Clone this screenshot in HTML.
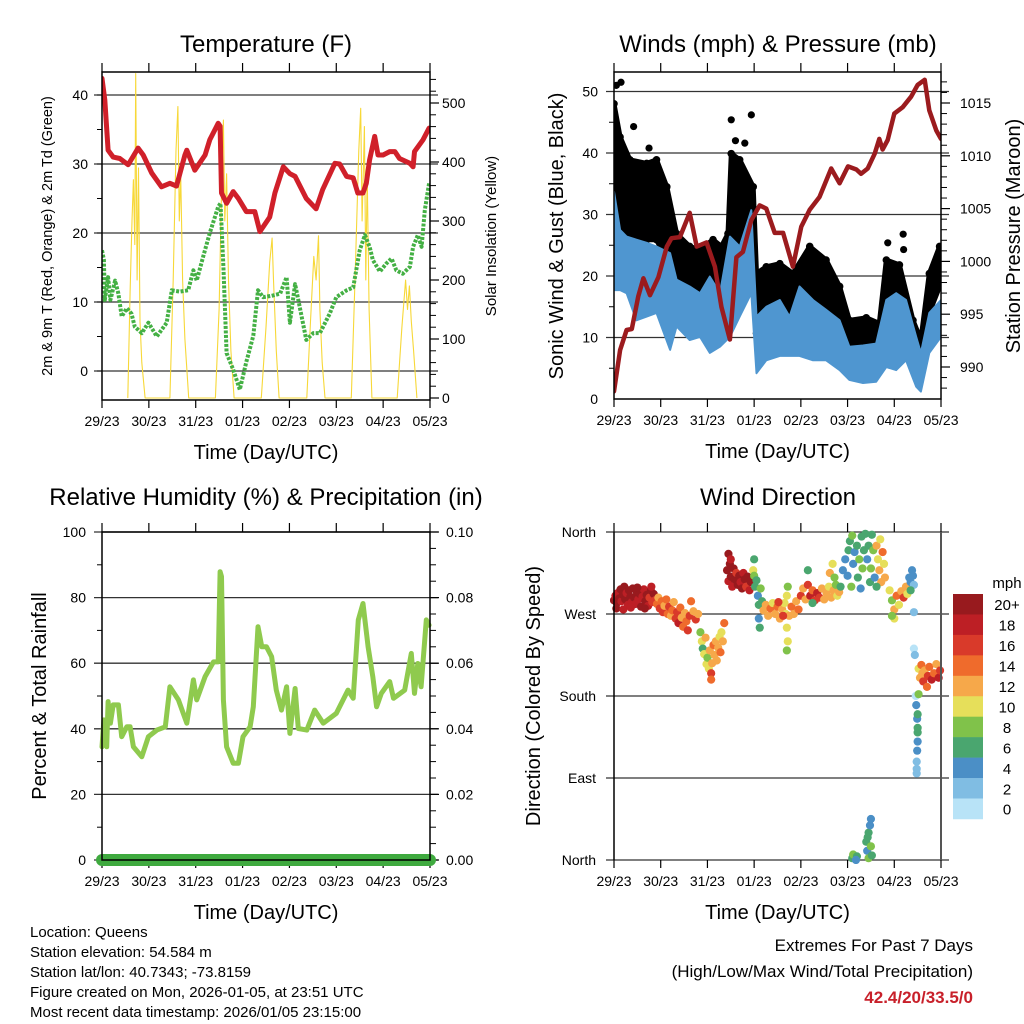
<!DOCTYPE html>
<html><head><meta charset="utf-8"><style>
html,body{margin:0;padding:0;background:#fff;}
svg{display:block;font-family:"Liberation Sans",sans-serif;}
</style></head><body>
<svg id="fig" width="1024" height="1024" viewBox="0 0 1024 1024">
<defs>
<clipPath id="c1"><rect x="102" y="72" width="328" height="328"/></clipPath>
<clipPath id="c2"><rect x="614" y="72" width="327" height="327"/></clipPath>
<clipPath id="c3"><rect x="94" y="520" width="344" height="350"/></clipPath>
<clipPath id="c4"><rect x="610" y="528" width="335" height="336"/></clipPath>
</defs>
<g id="g1"></g>
<g id="g2"></g>
<g id="g3"></g>
<g id="g4"></g>
<g id="txt">
<text x="30" y="937" font-size="15">Location: Queens</text>
<text x="30" y="957" font-size="15">Station elevation: 54.584 m</text>
<text x="30" y="977" font-size="15">Station lat/lon: 40.7343; -73.8159</text>
<text x="30" y="997" font-size="15">Figure created on Mon, 2026-01-05, at 23:51 UTC</text>
<text x="30" y="1017" font-size="15">Most recent data timestamp: 2026/01/05 23:15:00</text>
<text x="973" y="951" font-size="17" text-anchor="end">Extremes For Past 7 Days</text>
<text x="973" y="977" font-size="17" text-anchor="end">(High/Low/Max Wind/Total Precipitation)</text>
<text x="973" y="1003" font-size="17" font-weight="bold" fill="#c8202a" text-anchor="end">42.4/20/33.5/0</text>
</g>
</svg>
<script>
// ---------- DATA ----------
const dayLabels=["29/23","30/23","31/23","01/23","02/23","03/23","04/23","05/23"];
// Temperature (F)
const tempT=[0,0.06,0.13,0.24,0.38,0.56,0.77,0.88,1.06,1.27,1.45,1.59,1.77,1.81,1.98,2.20,2.30,2.48,2.52,2.55,2.66,2.80,2.91,3.08,3.26,3.37,3.58,3.69,3.87,4.01,4.12,4.36,4.57,4.71,4.97,5.07,5.22,5.36,5.46,5.57,5.64,5.71,5.82,5.89,6.0,6.14,6.25,6.35,6.57,6.64,6.67,6.85,6.98];
const tempV=[42.4,39.3,32,31,30.8,29.9,32.3,31.3,28.7,26.7,27.2,26.8,31.3,32,29.1,31.3,33.5,35.9,35.5,25.8,24.3,26,25,23.1,23.1,20.2,22.3,25.8,29.6,28.6,28.2,25,23.5,26.3,30.1,30,28.2,28,25.8,25.8,27.2,30.6,34,31.3,31.3,31.8,31.8,30.8,30.1,29.6,31.8,33.5,35.2];
const dewT=[0,0.04,0.06,0.13,0.18,0.28,0.35,0.42,0.53,0.63,0.70,0.85,0.99,1.17,1.38,1.49,1.66,1.84,1.95,2.02,2.16,2.30,2.48,2.53,2.59,2.66,2.80,2.94,3.08,3.23,3.33,3.44,3.62,3.80,3.94,4.01,4.12,4.19,4.36,4.51,4.65,4.86,5.0,5.22,5.36,5.50,5.61,5.71,5.78,5.93,6.07,6.18,6.28,6.42,6.57,6.64,6.74,6.82,6.89,6.98];
const dewV=[17.5,16.1,10.3,13.6,10.3,13.1,11.2,7.9,9.1,8.3,6.4,5.5,7,5,7,11.7,11.5,11.7,14.6,13.1,16.6,20,23.8,24.3,15.1,2.6,0.2,-2.7,1.3,5.1,11.7,10.7,10.9,11.2,13.6,7,12.6,10.3,4.5,5.5,5.5,8.3,10.7,11.7,12.1,17.5,19.7,18,16.1,14.4,15.6,16.3,14.6,14.1,15.1,18,19.7,18,23.3,27.2];
const solarT=[0.55,0.60,0.64,0.67,0.70,0.72,0.75,0.78,0.81,0.85,0.92, 1.45,1.52,1.58,1.62,1.65,1.68,1.72,1.77,1.85, 2.42,2.50,2.55,2.59,2.62,2.66,2.70,2.75,2.82, 3.40,3.50,3.58,3.63,3.66,3.72,3.78, 4.37,4.45,4.52,4.57,4.62,4.65,4.70,4.76, 5.32,5.40,5.48,5.52,5.55,5.60,5.63,5.66,5.70,5.76, 6.30,6.40,6.48,6.52,6.56,6.60,6.65,6.72];
const solarV=[0,180,300,370,260,550,200,390,130,60,0, 0,200,420,494,300,380,200,100,0, 0,150,350,471,300,380,200,80,0, 0,120,230,271,200,80,0, 0,130,240,200,275,150,60,0, 0,200,420,491,300,460,200,380,150,0, 0,120,200,150,190,130,80,0];
// Winds (mph) & Pressure (mb)
const presT=[0,0.13,0.27,0.38,0.52,0.63,0.77,0.95,1.13,1.23,1.41,1.62,1.77,1.98,2.16,2.30,2.48,2.62,2.76,2.94,3.12,3.26,3.44,3.62,3.83,4.01,4.19,4.40,4.65,4.83,5.01,5.19,5.29,5.43,5.58,5.68,5.75,5.86,6.0,6.18,6.36,6.50,6.65,6.75,6.90,7.0];
const presV=[987.7,991.6,993.5,993.6,996.7,998.4,996.8,998.5,1001.4,1002.2,1002.3,1004.6,1001.4,1001.8,999.5,995.7,992.6,1000.4,1000.9,1003.9,1005.3,1005,1002.7,1002.7,999.5,1003.3,1004.9,1006.1,1008.8,1007.4,1009.0,1008.7,1008.3,1008.8,1010.2,1011.6,1010.6,1011.5,1014.0,1014.6,1015.6,1016.7,1017.2,1014.3,1012.4,1011.6];
const windT=[0,0.13,0.27,0.48,0.70,0.91,1.20,1.34,1.62,1.84,2.05,2.27,2.48,2.69,2.94,3.05,3.26,3.55,3.76,3.97,4.26,4.54,4.83,5.04,5.33,5.61,5.83,6.04,6.25,6.47,6.57,6.75,7.0];
const windHi=[33.7,27.5,26.4,25.9,25.4,24.8,23.7,19.4,18.3,17.2,19.9,17.2,26.4,24.8,30.7,13.4,15,16.1,13.4,18.3,16.1,14.5,12.8,8.5,8.7,9,16.1,17.2,16.1,10.1,7.5,14,16.1];
const windLo=[17.7,17.7,17.2,12.8,13.4,14,8,11.8,9.6,10.1,7.5,8.5,10.1,13.4,17.2,4.2,6.3,7,7,7,6.3,6.3,4.7,3.1,2.6,2.8,5.2,4.7,6.3,2.0,1.2,7.5,10.1];
const gustT=[0,0.13,0.34,0.70,0.91,1.13,1.34,1.62,1.84,2.12,2.30,2.44,2.51,2.69,2.98,3.05,3.26,3.55,3.83,4.19,4.54,4.83,5.04,5.40,5.68,5.83,6.11,6.40,6.57,6.75,6.97];
const gustHi=[48,42.6,38.9,38.3,38.9,34.5,26.9,24.8,24.3,25.9,24.8,26.9,39.9,38.9,34.5,20.4,21.5,22,20.4,24.8,22.6,18.3,12.8,13.2,12.3,22.6,21.8,12.8,9.6,20.4,24.8];
const gustLo=[29,25.9,24.8,25.9,25.9,22.6,16.1,15.6,14,12.3,15.6,13.2,22.6,25.9,22.6,10.7,13,14,14,17.2,14,10.7,7.5,7.5,8.5,15,14,8.5,6.3,14,18.3];
const gustOutT=[0.05,0.15,0.42,0.75,2.51,2.80,2.94,5.86,6.19,6.20,0.02,0.25,2.60];
const gustOutV=[51,51.5,44.3,40.8,45.4,41.6,46.2,25.4,26.8,24.3,46,40,42];
// Relative humidity (%) & precip (in)
const rhT=[0,0.04,0.10,0.13,0.18,0.24,0.35,0.42,0.53,0.60,0.67,0.85,0.99,1.17,1.35,1.45,1.63,1.81,1.95,2.02,2.20,2.38,2.48,2.52,2.55,2.59,2.66,2.80,2.91,3.01,3.16,3.23,3.33,3.41,3.51,3.62,3.72,3.83,3.94,4.01,4.12,4.19,4.37,4.54,4.72,5.0,5.25,5.36,5.47,5.57,5.68,5.78,5.86,5.96,6.14,6.22,6.46,6.60,6.67,6.74,6.81,6.92,6.98];
const rhV=[34.5,42.7,34.5,48.3,41.7,47.3,47.3,37.6,40.6,40.6,34.5,31.5,37.6,39.6,40.6,52.8,48.8,41.7,54.9,48.8,55.9,60.4,60.4,87.9,86.4,48.8,34.5,29.5,29.5,37.6,40.6,46.7,71.1,65,65,62,51.8,45.7,52.8,38.6,52.3,40.1,39.6,45.7,41.7,44.7,51.8,49.3,73.2,78.2,65,55.9,46.7,50.8,54.4,49.3,51.8,63,50.8,59.9,52.8,73.2,71.6];
const precipT=[0,7];
const precipV=[0,0];
// Wind direction (deg) colored by speed (mph)
const dirT=[0.00,0.03,0.06,0.08,0.11,0.14,0.16,0.19,0.22,0.24,0.27,0.30,0.32,0.35,0.38,0.40,0.43,0.46,0.49,0.52,0.55,0.58,0.61,0.64,0.67,0.70,0.73,0.76,0.79,0.82,0.85,0.88,0.05,0.20,0.36,0.50,0.66,0.80,
0.92,0.95,0.98,1.02,1.05,1.08,1.12,1.15,1.18,1.22,1.25,1.28,1.32,1.35,1.38,1.42,1.45,1.48,1.52,1.55,1.58,1.62,1.65,1.70,1.75,1.80,
1.85,1.88,1.90,1.93,1.96,1.98,2.00,2.03,2.05,2.08,2.10,2.13,2.15,2.18,2.20,2.23,2.26,2.28,2.30,2.33,2.36,2.08,
2.42,2.45,2.48,2.50,2.53,2.56,2.58,2.62,2.65,2.68,2.71,2.74,2.77,2.80,2.83,2.86,2.90,2.93,2.45,2.50,
2.98,3.00,3.02,3.05,3.08,3.10,3.10,3.12,3.14,3.17,3.00,
3.20,3.25,3.30,3.35,3.40,3.45,3.50,3.55,3.60,3.65,3.68,3.70,3.72,3.70,3.72,3.70,3.75,3.80,3.85,3.90,3.95,3.52,3.62,
4.00,4.05,4.10,4.15,4.20,4.25,4.30,4.35,4.40,4.45,4.50,4.55,4.60,4.65,4.70,4.62,4.68,4.72,4.75,4.78,4.82,4.15,4.25,
4.85,4.90,4.95,5.00,5.02,5.05,5.10,5.12,5.15,5.20,5.22,5.25,5.30,5.32,5.35,5.38,5.42,5.45,5.48,5.50,5.52,5.55,5.08,5.28,
5.62,5.65,5.68,5.70,5.72,5.75,5.78,5.80,5.62,5.58,
5.90,5.95,6.00,6.05,6.10,6.15,6.20,6.25,6.28,6.00,5.95,
6.32,6.35,6.38,6.40,6.42,6.35,
6.42,6.42,6.44,6.46,6.47,6.49,6.50,6.50,6.49,6.48,6.48,6.48,6.50,6.50,
6.52,6.55,6.58,6.60,6.62,6.65,6.70,6.72,6.75,6.80,6.85,6.90,6.95,6.98,6.52,
5.10,5.12,5.20,5.18,5.40,5.42,5.45,5.48,5.50,5.45,5.50,5.43,5.52];
const dirV=[285,290,282,293,287,297,284,291,300,286,293,280,296,289,283,298,288,281,294,286,292,278,289,297,284,291,279,288,296,283,292,285,276,275,277,299,276,300,
281,288,276,284,272,279,286,270,278,268,274,283,265,272,260,277,266,256,271,262,252,268,284,273,264,270,
250,240,232,226,244,215,222,210,230,205,216,236,225,240,219,233,245,228,250,240,260,198,
318,306,325,311,300,320,308,315,302,312,305,298,315,308,300,311,296,305,336,330,
318,312,300,307,290,280,265,255,298,284,330,
274,280,268,276,282,270,278,265,275,282,270,290,300,255,240,230,268,278,270,284,275,283,268,
290,298,286,302,290,296,285,293,288,298,286,293,300,288,296,315,325,310,302,290,294,318,282,
300,318,330,312,340,350,356,325,338,345,310,330,355,320,340,358,330,345,305,320,357,340,300,298,
345,330,318,352,305,338,325,310,300,310,
296,285,275,290,280,295,288,300,292,265,268,
310,305,318,312,302,296,
272,232,225,180,170,155,140,130,120,108,100,95,160,145,
210,200,214,205,196,208,190,202,212,198,205,215,200,208,182,
2,6,4,0,20,10,30,38,45,2,15,25,5];
const dirSpd=[20,19,20,18,20,20,18,20,20,20,18,19,20,20,18,20,20,19,20,18,20,20,18,19,20,20,18,17,20,17,20,16,20,19,18,20,20,18,
15,13,16,14,17,13,15,14,16,12,15,13,17,16,18,14,13,15,12,14,17,16,14,13,16,12,
8,10,6,10,12,11,8,10,13,16,12,14,12,13,12,13,11,14,10,12,14,14,
20,19,20,20,18,20,20,17,20,20,18,20,19,20,17,20,18,20,20,19,
10,8,6,7,5,6,4,6,8,7,6,
12,13,12,14,11,12,15,13,12,10,10,10,9,10,10,9,12,14,13,12,15,16,17,
16,13,12,17,18,14,17,18,16,12,13,12,11,12,13,12,10,9,8,10,12,6,7,
7,4,5,4,6,7,8,5,4,6,7,8,6,8,7,6,5,6,7,8,7,8,9,5,
12,11,13,10,12,14,11,12,6,5,
10,9,12,14,10,12,17,13,11,10,9,
5,4,4,5,3,6,
2,1,2,1,5,4,6,5,4,3,2,2,7,6,
10,12,14,13,16,12,14,17,15,18,14,12,18,16,8,
6,8,7,5,6,4,6,5,4,8,8,7,6];
const cbColors=["#b8e3f7","#80bde3","#4b8fc6","#4aa66f","#80c24a","#e6df5a","#f6a84a","#ef6b2c","#d93a2a","#bd1f25","#981a1e"];
const cbLabels=["0","2","4","6","8","10","12","14","16","18","20+"];

// ---------- HELPERS ----------
const NS="http://www.w3.org/2000/svg";
function mk(parent,tag,attrs,txt){const e=document.createElementNS(NS,tag);for(const k in attrs)e.setAttribute(k,attrs[k]);if(txt!==undefined)e.textContent=txt;parent.appendChild(e);return e;}
function linScale(d0,d1,r0,r1){return v=>r0+(v-d0)*(r1-r0)/(d1-d0);}
function pathOf(ts,vs,xf,yf){return ts.map((t,i)=>(i?"L":"M")+xf(t).toFixed(1)+","+yf(vs[i]).toFixed(1)).join("");}
function bandOf(ts,hi,lo,xf,yf){let d=ts.map((t,i)=>(i?"L":"M")+xf(t).toFixed(1)+","+yf(hi[i]).toFixed(1)).join("");for(let i=ts.length-1;i>=0;i--)d+="L"+xf(ts[i]).toFixed(1)+","+yf(lo[i]).toFixed(1);return d+"Z";}

function frame(g,L,R,T,B,opt){
  const xf=linScale(0,7,L,R);
  opt.grid.forEach(y=>{const l=mk(g,"line",{x1:L-8,x2:R+8,y1:y,y2:y,stroke:"#333","stroke-width":1.3});
    
    });
  for(let d=0;d<=7;d++){const x=xf(d);
    mk(g,"line",{x1:x,x2:x,y1:T-9,y2:T,stroke:"#000","stroke-width":1.2});
    mk(g,"line",{x1:x,x2:x,y1:B,y2:B+8,stroke:"#000","stroke-width":1.2});
    const t=mk(g,"text",{x:x,y:B+26,"font-size":14,"text-anchor":"middle"},dayLabels[d]);
    
    }
  (opt.leftMinor||[]).forEach(y=>mk(g,"line",{x1:L-5,x2:L,y1:y,y2:y,stroke:"#000","stroke-width":1}));
  (opt.rightMinor||[]).forEach(y=>mk(g,"line",{x1:R,x2:R+6,y1:y,y2:y,stroke:"#000","stroke-width":1}));
  (opt.rightMajor||[]).forEach(y=>mk(g,"line",{x1:R,x2:R+9,y1:y,y2:y,stroke:"#000","stroke-width":1.2}));
  const xt=mk(g,"text",{x:(L+R)/2,y:B+59,"font-size":20,"text-anchor":"middle"},"Time (Day/UTC)");
  
  
  return xf;
}
function box(g,L,R,T,B){const r=mk(g,"rect",{x:L,y:T,width:R-L,height:B-T,fill:"none",stroke:"#000","stroke-width":1.5});
  
  }
function lab(g,x,y,s,anchor,size,name){const t=mk(g,"text",{x:x,y:y,"font-size":size||14,"text-anchor":anchor||"end"},s);
  
  return t;}
function vlab(g,x,y,s,size,name){const t=mk(g,"text",{x:x,y:y,"font-size":size,"text-anchor":"middle",transform:"rotate(-90 "+x+" "+y+")"},s);
  
  }

// ---------- PANEL 1 ----------
(function(){
  const g=document.getElementById("g1");const L=102,R=430,T=72,B=400;
  const yL=linScale(0,40,371,95), yR=linScale(0,500,398,103);
  const leftMinor=[],rightMinor=[],rightMajor=[];
  for(let v=0;v<=40;v+=5)leftMinor.push(yL(v));
  for(let v=0;v<=540;v+=20)(v%100?rightMinor:rightMajor).push(yR(v));
  const xf=frame(g,L,R,T,B,{grid:[0,10,20,30,40].map(yL),leftMinor,rightMinor,rightMajor});
  const c=mk(g,"g",{"clip-path":"url(#c1)"});
  const s=mk(c,"path",{d:pathOf(solarT,solarV,xf,yR),fill:"none",stroke:"#f7d838","stroke-width":1.1,"stroke-linejoin":"round"});
  
  
  const d=mk(c,"path",{d:pathOf(dewT,dewV,xf,yL),fill:"none",stroke:"#44b044","stroke-width":4,"stroke-dasharray":"3 1.5","stroke-linejoin":"round"});
  
  
  const t=mk(c,"path",{d:pathOf(tempT,tempV,xf,yL),fill:"none",stroke:"#d0202a","stroke-width":5,"stroke-linejoin":"round","stroke-linecap":"round"});
  
  
  box(g,L,R,T,B);
  [0,10,20,30,40].forEach(v=>lab(g,88,yL(v)+5,String(v)));
  [0,100,200,300,400,500].forEach(v=>lab(g,442,yR(v)+5,String(v),"start"));
  lab(g,266,52,"Temperature (F)","middle",24,"panel-title");
  vlab(g,52,236,"2m & 9m T (Red, Orange) & 2m Td (Green)",14.5,"y-axis-title");
  vlab(g,496,236,"Solar Insolation (Yellow)",15,"y2-axis-title");
})();

// ---------- PANEL 2 ----------
(function(){
  const g=document.getElementById("g2");const L=614,R=941,T=72,B=399;
  const yL=linScale(0,50,399,91.5), yR=linScale(990,1015,367,103);
  const leftMinor=[],rightMinor=[],rightMajor=[];
  for(let v=5;v<=50;v+=10)leftMinor.push(yL(v));
  for(let v=988;v<=1017;v++)(v%5?rightMinor:rightMajor).push(yR(v));
  const xf=frame(g,L,R,T,B,{grid:[10,20,30,40,50].map(yL),leftMinor,rightMinor,rightMajor});
  const c=mk(g,"g",{"clip-path":"url(#c2)"});
  const gb=mk(c,"path",{d:bandOf(gustT,gustHi,gustLo,xf,yL),fill:"#000",stroke:"#000","stroke-width":5,"stroke-linejoin":"round"});
  
  
  gustT.forEach((t,i)=>{const e=mk(c,"circle",{cx:xf(t),cy:yL(gustHi[i]),r:3.8,fill:"#000"});
    
    
    const e2=mk(c,"circle",{cx:xf(t),cy:yL(gustLo[i]),r:3.8,fill:"#000"});
    
    });
  gustOutT.forEach((t,i)=>{const e=mk(c,"circle",{cx:xf(t),cy:yL(gustOutV[i]),r:3.6,fill:"#000"});
    
    });
  const wb=mk(c,"path",{d:bandOf(windT,windHi,windLo,xf,yL),fill:"#4f96d0",stroke:"#4f96d0","stroke-width":2,"stroke-linejoin":"round"});
  
  
  const p=mk(c,"path",{d:pathOf(presT,presV,xf,yR),fill:"none",stroke:"#9b1b1e","stroke-width":4.5,"stroke-linejoin":"round","stroke-linecap":"round"});
  
  
  box(g,L,R,T,B);
  [0,10,20,30,40,50].forEach(v=>lab(g,598,yL(v)+5,String(v)));
  [990,995,1000,1005,1010,1015].forEach(v=>lab(g,960,yR(v)+5,String(v),"start"));
  lab(g,778,52,"Winds (mph) & Pressure (mb)","middle",24,"panel-title");
  vlab(g,563,236,"Sonic Wind & Gust (Blue, Black)",20,"y-axis-title");
  vlab(g,1020,236,"Station Pressure (Maroon)",20,"y2-axis-title");
})();

// ---------- PANEL 3 ----------
(function(){
  const g=document.getElementById("g3");const L=102,R=430,T=532,B=860;
  const yL=linScale(0,100,860,532), yR=linScale(0,0.1,860,532);
  const leftMinor=[],rightMinor=[],rightMajor=[];
  for(let v=10;v<100;v+=20)leftMinor.push(yL(v));
  for(let v=0;v<=20;v++)(v%4?rightMinor:rightMajor).push(yR(v*0.005));
  const xf=frame(g,L,R,T,B,{grid:[0,20,40,60,80,100].map(yL),leftMinor,rightMinor,rightMajor});
  const c=mk(g,"g",{"clip-path":"url(#c3)"});
  const r=mk(c,"path",{d:pathOf(rhT,rhV,xf,yL),fill:"none",stroke:"#8fca4e","stroke-width":5,"stroke-linejoin":"round","stroke-linecap":"round"});
  
  
  const pr=mk(c,"path",{d:pathOf(precipT,precipV,xf,yR),fill:"none",stroke:"#3faa3f","stroke-width":12,"stroke-linecap":"round"});
  
  
  box(g,L,R,T,B);
  [0,20,40,60,80,100].forEach(v=>lab(g,86,yL(v)+5,String(v)));
  ["0.00","0.02","0.04","0.06","0.08","0.10"].forEach((s,i)=>lab(g,446,yR(i*0.02)+5,s,"start"));
  lab(g,266,505,"Relative Humidity (%) & Precipitation (in)","middle",24,"panel-title");
  vlab(g,46,696,"Percent & Total Rainfall",20,"y-axis-title");
})();

// ---------- PANEL 4 ----------
(function(){
  const g=document.getElementById("g4");const L=614,R=941,T=532,B=860;
  const yD=linScale(0,360,860,532);
  const xf=frame(g,L,R,T,B,{grid:[0,90,180,270,360].map(yD)});
  const c=mk(g,"g",{"clip-path":"url(#c4)"});
  dirT.forEach((t,i)=>{const idx=Math.min(10,Math.floor(dirSpd[i]/2));
    const e=mk(c,"circle",{cx:xf(t),cy:yD(dirV[i]),r:4.1,fill:cbColors[idx]});
    
    });
  mk(g,"line",{x1:L,x2:L,y1:T,y2:B,stroke:"#000","stroke-width":1.5});
  mk(g,"line",{x1:R,x2:R,y1:T,y2:B,stroke:"#555","stroke-width":2});
  [["North",0],["East",90],["South",180],["West",270],["North",360]].forEach(a=>lab(g,596,yD(a[1])+5,a[0]));
  lab(g,778,505,"Wind Direction","middle",24,"panel-title");
  vlab(g,540,696,"Direction (Colored By Speed)",20,"y-axis-title");
  const cb=mk(g,"g",{});
  
  
  const top=594,h=20.45;
  for(let i=0;i<11;i++){const k=10-i;
    const r=mk(cb,"rect",{x:953,y:top+i*h,width:30,height:h+0.3,fill:cbColors[k]});
    
    
    lab(cb,1007,top+i*h+h/2+6,cbLabels[k],"middle",15,"colorbar-label");}
  lab(cb,1007,588,"mph","middle",15,"colorbar-title");
})();
</script>
</body></html>
